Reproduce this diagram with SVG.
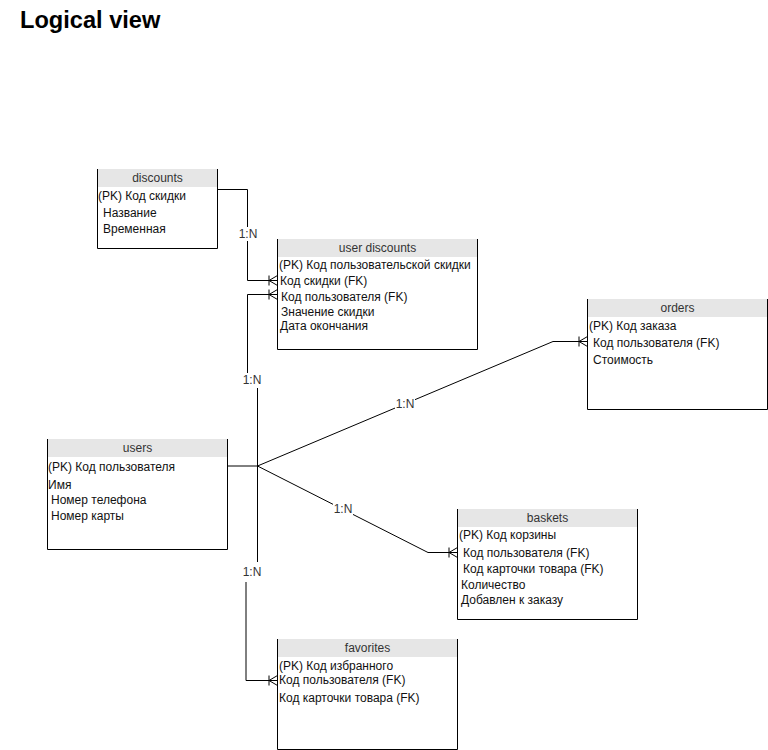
<svg xmlns="http://www.w3.org/2000/svg" width="768" height="750" viewBox="0 0 768 750">
<style>
text{font-family:"Liberation Sans",Arial,sans-serif;font-size:12px;fill:#111}
.title{font-size:23.6px;font-weight:bold;fill:#000}
.hdr{fill:#e6e6e6;stroke:none}
.box{fill:none;stroke:#000;stroke-width:1}
.th{text-anchor:middle;fill:#333}
.ln{fill:none;stroke:#000;stroke-width:1}
.lbl{text-anchor:middle;fill:#333}
.lb{fill:#fff;stroke:none}
</style>
<defs>
<marker id="many" markerUnits="userSpaceOnUse" markerWidth="12" markerHeight="12" viewBox="-10 -6 12 12" refX="0" refY="0" orient="auto">
<path d="M-8.5,-5 V5 M-8.5,0 L0,-5 M-8.5,0 L0,5" fill="none" stroke="#000" stroke-width="1"/>
</marker>
</defs>
<rect width="768" height="750" fill="#fff"/>
<text class="title" x="20" y="28">Logical view</text>

<g id="connectors">
<path class="ln" d="M217,189.5 H247.5 V280.5 H277.5" marker-end="url(#many)"/>
<path class="ln" d="M257.5,466 V388"/>
<path class="ln" d="M247.5,373 V294.5 H277.5" marker-end="url(#many)"/>
<path class="ln" d="M257.5,466 L553,341.5 H587.5" marker-end="url(#many)"/>
<path class="ln" d="M257.5,466 L428,552.5 H457.5" marker-end="url(#many)"/>
<path class="ln" d="M257.5,466 V562"/>
<path class="ln" d="M246,582 V680.5 H277.5" marker-end="url(#many)"/>
<path class="ln" d="M228,466 H258" stroke-width="2.2"/>
<rect class="lb" x="238" y="227" width="20" height="14"/>
<text class="lbl" x="248" y="238">1:N</text>
<text class="lbl" x="252" y="384">1:N</text>
<rect class="lb" x="395" y="397" width="20" height="14"/>
<text class="lbl" x="405" y="408">1:N</text>
<rect class="lb" x="333" y="502" width="20" height="14"/>
<text class="lbl" x="343" y="513">1:N</text>
<text class="lbl" x="252" y="576">1:N</text>
</g>

<g id="discounts">
<rect class="hdr" x="97.5" y="169" width="120" height="18"/>
<path class="box" d="M97.5,169 V248.5 H217.5 V169"/>
<text class="th" x="157.5" y="182">discounts</text>
<text x="98" y="200">(PK) Код скидки</text>
<text x="103" y="217">Название</text>
<text x="103" y="233">Временная</text>
</g>

<g id="user-discounts">
<rect class="hdr" x="277.5" y="239" width="200" height="18"/>
<path class="box" d="M277.5,239 V349.5 H477.5 V239"/>
<text class="th" x="377.5" y="252">user discounts</text>
<text x="279" y="269">(PK) Код пользовательской скидки</text>
<text x="280" y="285">Код скидки (FK)</text>
<text x="281" y="301">Код пользователя (FK)</text>
<text x="281" y="316">Значение скидки</text>
<text x="280" y="330">Дата окончания</text>
</g>

<g id="orders">
<rect class="hdr" x="587.5" y="299" width="180" height="18"/>
<path class="box" d="M587.5,299 V409.5 H767.5 V299"/>
<text class="th" x="677.5" y="312">orders</text>
<text x="589" y="330">(PK) Код заказа</text>
<text x="593" y="347">Код пользователя (FK)</text>
<text x="593" y="364">Стоимость</text>
</g>

<g id="users">
<rect class="hdr" x="47.5" y="439" width="180" height="18"/>
<path class="box" d="M47.5,439 V549.5 H227.5 V439"/>
<text class="th" x="137.5" y="452">users</text>
<text x="48" y="471">(PK) Код пользователя</text>
<text x="48" y="489">Имя</text>
<text x="51" y="504">Номер телефона</text>
<text x="51" y="520">Номер карты</text>
</g>

<g id="baskets">
<rect class="hdr" x="457.5" y="509" width="180" height="18"/>
<path class="box" d="M457.5,509 V619.5 H637.5 V509"/>
<text class="th" x="547.5" y="522">baskets</text>
<text x="459" y="539">(PK) Код корзины</text>
<text x="463" y="557">Код пользователя (FK)</text>
<text x="463" y="573">Код карточки товара (FK)</text>
<text x="461" y="589">Количество</text>
<text x="461" y="604">Добавлен к заказу</text>
</g>

<g id="favorites">
<rect class="hdr" x="277.5" y="639" width="180" height="18"/>
<path class="box" d="M277.5,639 V749.5 H457.5 V639"/>
<text class="th" x="367.5" y="652">favorites</text>
<text x="279" y="670">(PK) Код избранного</text>
<text x="279" y="684">Код пользователя (FK)</text>
<text x="279" y="702">Код карточки товара (FK)</text>
</g>
</svg>
